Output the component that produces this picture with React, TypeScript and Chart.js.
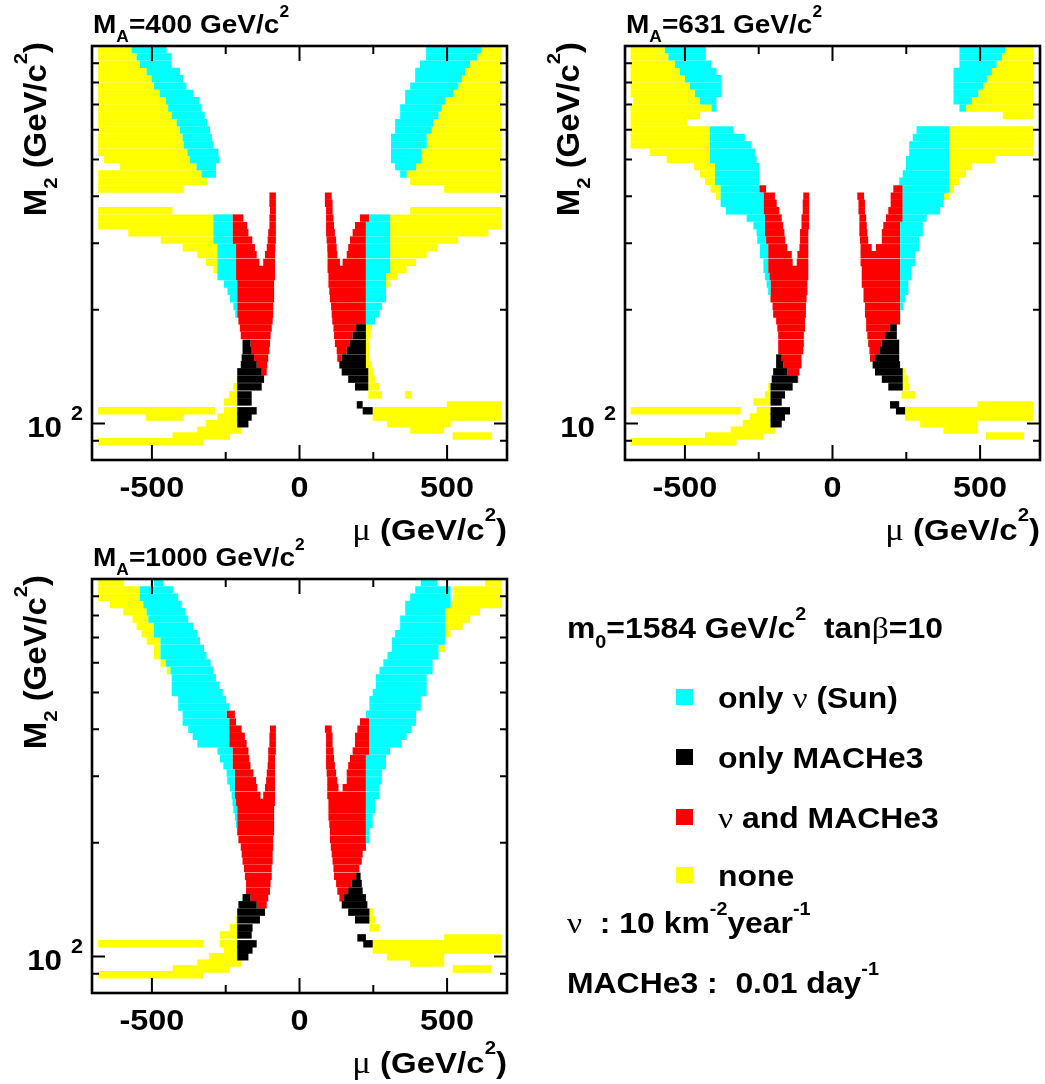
import { useEffect, useRef } from 'react';
import { Chart, registerables } from 'chart.js';

Chart.register(...registerables);

// M2 (GeV/c^2) value of each scan row (index = row number)
const M2_ROWS = [
  979, 936, 895, 856, 819, 783, 749, 716, 685, 655, 626, 599, 572, 547, 523, 500, 479, 458, 438, 418,
  400, 383, 366, 350, 334, 320, 306, 292, 280, 267, 256, 245, 234, 224, 214, 204, 195, 187, 179, 171,
  163, 156, 149, 143, 137, 131, 125, 119, 114, 112, 108, 104, 99.8, 96, 92.6, 89.4,
];

const MU_TICKS_MAJOR = [-500, 0, 500];
const MU_TICKS_MINOR = [-250, 250];
const M2_TICKS_MAJOR = [100];
const M2_TICKS_MINOR = [90, 200, 300, 400, 500, 600, 700, 800, 900];
const MA_VALUES = [400, 631, 1000];
const CATEGORIES = ['only ν (Sun)', 'only MACHe3', 'ν and MACHe3', 'none'];

// rows: [row index, mu low, mu high]
const p400Yellow = [
  [0,-682,-569],[1,-682,-552],[2,-682,-541],[3,-682,-518],[4,-682,-501],[5,-682,-493],[6,-682,-473],[7,-682,-453],[8,-682,-445],[9,-682,-433],[10,-682,-416],[11,-682,-405],[12,-682,-396],[13,-682,-392],[14,-682,-380],[15,-662,-371],[16,-608,-349],[17,-682,-332],[18,-682,-313],[19,-682,-392],
  [22,-682,-430],[23,-682,-292],[24,-682,-292],[25,-580,-292],[26,-470,-292],[27,-396,-278],[28,-346,-278],[29,-317,-278],[30,-292,-278],
  [46,-224,-211],[47,-238,-211],[48,-256,-211],
  [50,-682,-286],[50,-256,-211],[51,-521,-392],[51,-278,-211],[52,-317,-211],[53,-346,-196],[54,-430,-236],[55,-682,-326],
  [0,617,685],[1,601,685],[2,578,685],[3,561,685],[4,550,685],[5,538,685],[6,521,685],[7,493,685],[8,482,685],[9,471,685],[10,454,685],[11,448,685],[12,431,685],[13,431,685],[14,414,685],[15,414,685],[16,395,685],[17,363,685],[18,375,685],[19,490,685],
  [22,375,685],[23,307,685],[24,307,685],[25,307,640],[26,307,538],[27,307,467],[28,307,431],[29,307,395],[30,307,363],[31,293,332],[32,293,307],
  [38,225,245],[39,225,241],[40,225,237],[41,225,237],[42,225,237],[43,225,245],[44,233,250],[45,233,256],[46,233,271],[47,233,279],[47,358,380],
  [49,499,685],[50,248,685],[51,248,685],[52,296,512],[53,375,490],[54,519,651],
];
const p400Cyan = [
  [0,-569,-450],[1,-552,-433],[2,-541,-433],[3,-518,-405],[4,-501,-394],[5,-493,-383],[6,-473,-360],[7,-453,-340],[8,-445,-332],[9,-433,-321],[10,-416,-313],[11,-405,-303],[12,-396,-297],[13,-392,-292],[14,-380,-275],[15,-371,-271],[16,-349,-283],[17,-332,-283],
  [23,-292,-227],[24,-292,-227],[25,-292,-227],[26,-292,-227],[27,-278,-215],[28,-278,-215],[29,-278,-215],[30,-278,-215],[31,-278,-215],[32,-256,-211],[33,-244,-211],[34,-236,-211],[35,-224,-211],[36,-218,-211],
  [0,429,617],[1,429,601],[2,408,578],[3,392,561],[4,392,550],[5,375,538],[6,358,521],[7,358,493],[8,341,482],[9,341,471],[10,324,454],[11,324,448],[12,310,431],[13,310,431],[14,310,414],[15,310,414],[16,324,395],[17,341,363],
  [23,237,307],[24,225,307],[25,225,307],[26,225,307],[27,225,307],[28,225,307],[29,225,307],[30,225,307],[31,225,293],[32,225,293],[33,225,293],[34,225,293],[35,225,279],[36,225,271],[37,225,256],
];
const p400Red = [
  [23,-227,-190],[24,-227,-177],[25,-227,-173],[26,-227,-160],[27,-215,-151],[28,-215,-145],[29,-215,-136],[30,-215,-83],[31,-215,-83],[32,-211,-86],[33,-211,-86],[34,-211,-86],[35,-211,-89],[36,-211,-89],[37,-207,-91],[38,-202,-94],[39,-199,-98],[40,-166,-100],[41,-162,-102],[42,-154,-106],[43,-145,-109],[44,-128,-111],
  [20,-102,-80],[21,-102,-80],[22,-100,-80],[23,-102,-80],[24,-102,-80],[25,-106,-80],[26,-108,-80],[27,-111,-82],[28,-117,-83],[29,-123,-83],
  [20,86,109],[21,86,112],[22,90,112],[23,90,115],[24,90,117],[25,90,120],[26,92,124],[27,94,126],[28,95,128],[29,95,137],
  [23,205,237],[24,188,225],[25,180,225],[26,171,225],[27,165,225],[28,160,225],[29,146,225],[30,95,225],[31,98,225],[32,98,225],[33,101,225],[34,103,225],[35,107,225],[36,109,225],[37,111,225],[38,115,192],[39,117,180],[40,120,171],[41,126,160],[42,128,143],
];
const p400Black = [
  [40,-193,-166],[41,-193,-162],[42,-196,-154],[43,-199,-145],[44,-211,-128],[45,-211,-120],[46,-211,-128],[47,-211,-162],[48,-211,-162],[50,-211,-145],[51,-211,-162],[52,-211,-173],
  [38,192,225],[39,180,225],[40,171,225],[41,160,225],[42,143,225],[43,135,225],[44,143,233],[45,165,233],[46,188,233],[49,194,214],[50,214,248],
];

const p631Yellow = [
  [0,-684,-568],[1,-684,-556],[2,-684,-534],[3,-684,-517],[4,-684,-500],[5,-684,-483],[6,-684,-466],[7,-675,-449],[8,-684,-410],[9,-684,-449],[10,-684,-492],
  [11,-684,-415],[12,-684,-415],[13,-684,-415],[14,-619,-415],[15,-562,-415],[16,-469,-398],[17,-449,-398],[18,-432,-398],[19,-413,-379],[20,-395,-379],
  [46,-218,-210],[47,-229,-210],[48,-268,-210],
  [50,-684,-311],[50,-257,-210],[51,-280,-210],[52,-304,-210],[53,-345,-195],[54,-432,-234],[55,-684,-325],
  [0,585,681],[1,574,681],[2,556,681],[3,540,681],[4,523,681],[5,511,681],[6,494,681],[7,472,681],[8,452,681],[9,577,681],
  [11,396,681],[12,396,681],[13,396,681],[14,396,681],[15,396,551],[16,396,472],[17,396,452],[18,396,430],[19,396,412],[20,378,396],
  [44,238,246],[45,238,257],[46,238,260],[47,234,280],
  [49,491,681],[50,246,681],[51,246,681],[52,297,491],[53,376,491],[54,520,649],
];
const p631Cyan = [
  [0,-568,-429],[1,-556,-429],[2,-534,-410],[3,-517,-393],[4,-500,-376],[5,-483,-376],[6,-466,-376],[7,-449,-393],[8,-410,-393],
  [11,-415,-336],[12,-415,-297],[13,-415,-274],[14,-415,-263],[15,-415,-257],[16,-398,-248],[17,-398,-248],[18,-398,-248],[19,-379,-248],[20,-379,-234],[21,-379,-234],[22,-361,-234],[23,-291,-229],[24,-268,-229],[25,-257,-229],[26,-255,-225],[27,-246,-218],[28,-246,-218],[29,-234,-218],[30,-234,-218],[31,-229,-214],[32,-223,-210],[33,-218,-210],
  [0,430,585],[1,430,574],[2,430,556],[3,410,540],[4,410,523],[5,410,511],[6,410,494],[7,410,472],[8,430,452],
  [11,285,396],[12,272,396],[13,260,396],[14,260,396],[15,249,396],[16,249,396],[17,238,396],[18,226,396],[19,238,396],[20,238,378],[21,238,376],[22,238,364],[23,238,319],[24,229,306],[25,229,306],[26,229,294],[27,229,294],[28,229,280],[29,229,280],[30,229,268],[31,229,268],[32,229,257],[33,229,257],[34,229,246],[35,229,240],
];
const p631Red = [
  [19,-248,-225],[20,-234,-195],[21,-234,-189],[22,-234,-180],[23,-229,-172],[24,-229,-167],[25,-229,-163],[26,-225,-160],[27,-218,-153],[28,-218,-138],[29,-218,-135],[30,-218,-82],[31,-214,-82],[32,-210,-85],[33,-210,-85],[34,-210,-88],[35,-203,-90],[36,-201,-90],[37,-191,-93],[38,-187,-93],[39,-184,-97],[40,-184,-97],[41,-184,-99],[42,-172,-105],[43,-167,-105],[44,-153,-112],[45,-121,-116],
  [20,-99,-79],[21,-101,-79],[22,-101,-79],[23,-105,-79],[24,-105,-79],[25,-110,-82],[26,-110,-82],[27,-112,-82],[28,-119,-82],[29,-121,-82],
  [20,84,107],[21,88,110],[22,88,110],[23,91,114],[24,91,116],[25,91,118],[26,93,121],[27,95,133],
  [19,206,238],[20,197,238],[21,197,238],[22,189,238],[23,181,238],[24,172,229],[25,167,229],[26,167,229],[27,147,229],[28,95,229],[29,95,229],[30,99,229],[31,99,229],[32,99,229],[33,105,229],[34,105,229],[35,110,229],[36,110,229],[37,114,229],[38,114,195],[39,118,178],[40,121,167],[41,125,159],[42,127,144],
];
const p631Black = [
  [42,-191,-172],[43,-191,-167],[44,-201,-153],[45,-206,-119],[46,-210,-135],[47,-210,-161],[48,-210,-172],[50,-210,-144],[51,-210,-161],[52,-210,-172],
  [38,195,218],[39,178,218],[40,167,226],[41,159,226],[42,144,226],[43,136,229],[44,144,238],[45,167,238],[46,189,238],[49,195,226],[50,215,246],
];

const p1000Yellow = [
  [0,-682,-595],[1,-682,-541],[2,-682,-541],[3,-642,-529],[4,-597,-518],[5,-566,-512],[6,-552,-493],[7,-535,-493],[8,-518,-471],[9,-493,-471],[10,-493,-471],[11,-471,-453],[12,-450,-437],
  [46,-215,-211],[47,-236,-211],[48,-270,-211],
  [50,-682,-326],[50,-270,-211],[51,-256,-211],[52,-306,-211],[53,-346,-196],[54,-430,-236],[55,-682,-326],
  [0,629,685],[1,521,685],[2,521,685],[3,512,685],[4,493,612],[5,493,578],[6,493,553],[7,493,512],[9,471,493],
  [45,237,250],[46,237,256],[47,237,271],
  [49,490,685],[50,248,685],[51,248,685],[52,296,490],[53,375,490],[54,519,651],
];
const p1000Cyan = [
  [0,-493,-461],[1,-541,-428],[2,-541,-411],[3,-529,-399],[4,-518,-388],[5,-512,-377],[6,-493,-360],[7,-493,-346],[8,-471,-337],[9,-471,-324],[10,-471,-315],[11,-453,-301],[12,-437,-292],[13,-433,-283],[14,-433,-271],[15,-433,-260],[16,-411,-249],[17,-411,-238],[18,-396,-247],[19,-396,-238],[20,-377,-238],[21,-362,-238],[22,-346,-238],[23,-278,-227],[24,-270,-227],[25,-258,-227],[26,-247,-219],[27,-245,-219],[28,-236,-219],[29,-230,-219],[30,-227,-215],[31,-224,-211],[32,-219,-211],[33,-215,-211],
  [0,411,467],[1,392,512],[2,375,512],[3,358,512],[4,358,493],[5,341,493],[6,341,493],[7,324,493],[8,313,493],[9,313,471],[10,298,471],[11,284,451],[12,271,451],[13,259,431],[14,259,431],[15,248,431],[16,237,411],[17,237,411],[18,225,395],[19,237,395],[20,237,380],[21,237,363],[22,237,346],[23,237,307],[24,225,293],[25,225,293],[26,225,279],[27,225,279],[28,225,271],[29,225,271],[30,225,256],[31,225,256],[32,225,248],[33,225,248],[34,225,237],[35,225,237],
];
const p1000Red = [
  [18,-247,-219],[19,-238,-215],[20,-238,-196],[21,-238,-185],[22,-238,-179],[23,-227,-173],[24,-227,-170],[25,-227,-166],[26,-219,-156],[27,-219,-147],[28,-219,-143],[29,-219,-132],[30,-215,-83],[31,-211,-86],[32,-211,-86],[33,-211,-86],[34,-211,-86],[35,-207,-89],[36,-199,-89],[37,-196,-91],[38,-193,-91],[39,-188,-94],[40,-185,-94],[41,-181,-98],[42,-181,-100],[43,-166,-106],[44,-145,-111],
  [20,-100,-80],[21,-102,-80],[22,-102,-80],[23,-106,-80],[24,-106,-83],[25,-108,-83],[26,-111,-83],[27,-113,-83],[28,-117,-83],[29,-123,-83],
  [20,86,109],[21,90,112],[22,90,112],[23,90,115],[24,90,117],[25,90,120],[26,92,124],[27,94,128],[28,94,132],
  [19,205,237],[20,196,237],[21,188,237],[22,188,237],[23,180,237],[24,171,225],[25,165,225],[26,160,225],[27,160,225],[28,146,225],[29,94,225],[30,98,225],[31,98,225],[32,98,225],[33,101,225],[34,103,225],[35,103,225],[36,106,225],[37,109,214],[38,112,211],[39,115,203],[40,117,192],[41,124,177],[42,128,165],[43,135,151],
];
const p1000Black = [
  [43,-193,-166],[44,-207,-145],[45,-211,-117],[46,-211,-134],[47,-211,-159],[48,-211,-162],[50,-211,-145],[51,-211,-159],[52,-211,-173],
  [40,192,207],[41,177,211],[42,165,214],[43,151,225],[44,143,230],[45,165,237],[46,188,237],[49,196,225],[50,216,248],
];

const COLORS = { cyan: '#00ffff', black: '#000000', red: '#ff0000', yellow: '#ffff00' };

type Run = { t: string; k?: 'sub' | 'sup'; g?: boolean };

function drawRich(ctx: CanvasRenderingContext2D, runs: Run[], x: number, y: number, size: number, align: 'left' | 'right' | 'center', sx = 1.1) {
  const fontFor = (r: Run) => {
    const s = r.k ? size * 0.62 : size;
    return r.g ? `${s * 1.05}px "Liberation Serif"` : `bold ${s}px "Liberation Sans"`;
  };
  let w = 0;
  const widths = runs.map((r) => {
    ctx.font = fontFor(r);
    const m = ctx.measureText(r.t).width;
    w += m;
    return m;
  });
  ctx.save();
  ctx.translate(x, y);
  ctx.scale(sx, 1);
  ctx.textAlign = 'left';
  ctx.textBaseline = 'alphabetic';
  let cx = align === 'left' ? 0 : align === 'right' ? -w : -w / 2;
  runs.forEach((r, i) => {
    ctx.font = fontFor(r);
    const dy = r.k === 'sub' ? size * 0.35 : r.k === 'sup' ? -size * 0.62 : 0;
    ctx.fillText(r.t, cx, dy);
    cx += widths[i];
  });
  ctx.restore();
}

type PanelCfg = {
  ma: number;
  yellow: number[][];
  cyan: number[][];
  red: number[][];
  black: number[][];
  box: { left: number; top: number; right: number; bottom: number };
  legend: boolean;
};

const PANELS: PanelCfg[] = [
  { ma: MA_VALUES[0], yellow: p400Yellow, cyan: p400Cyan, red: p400Red, black: p400Black, box: { left: 92, top: 46, right: 507, bottom: 460 }, legend: false },
  { ma: MA_VALUES[1], yellow: p631Yellow, cyan: p631Cyan, red: p631Red, black: p631Black, box: { left: 625, top: 46, right: 1040, bottom: 460 }, legend: false },
  { ma: MA_VALUES[2], yellow: p1000Yellow, cyan: p1000Cyan, red: p1000Red, black: p1000Black, box: { left: 92, top: 579, right: 507, bottom: 993 }, legend: true },
];

const W = 1045;
const H = 1084;

function makePlugin(cfg: PanelCfg) {
  return {
    id: 'decor' + cfg.ma,
    afterDraw(chart: any) {
      const ctx: CanvasRenderingContext2D = chart.ctx;
      const ca = chart.chartArea;
      const xs = chart.scales.x;
      const ys = chart.scales.y;
      ctx.save();
      ctx.strokeStyle = '#000';
      ctx.fillStyle = '#000';
      ctx.lineWidth = 2;
      ctx.beginPath();
      const xTick = (v: number, len: number) => {
        const p = xs.getPixelForValue(v);
        ctx.moveTo(p, ca.bottom); ctx.lineTo(p, ca.bottom - len);
        ctx.moveTo(p, ca.top); ctx.lineTo(p, ca.top + len);
      };
      const yTick = (v: number, len: number) => {
        const p = ys.getPixelForValue(v);
        ctx.moveTo(ca.left, p); ctx.lineTo(ca.left + len, p);
        ctx.moveTo(ca.right, p); ctx.lineTo(ca.right - len, p);
      };
      MU_TICKS_MAJOR.forEach((v) => xTick(v, 15));
      MU_TICKS_MINOR.forEach((v) => xTick(v, 8));
      M2_TICKS_MAJOR.forEach((v) => yTick(v, 13));
      M2_TICKS_MINOR.forEach((v) => yTick(v, 7));
      ctx.stroke();
      ctx.lineWidth = 2.6;
      ctx.strokeRect(ca.left, ca.top, ca.right - ca.left, ca.bottom - ca.top);

      // tick labels
      MU_TICKS_MAJOR.forEach((v) => {
        drawRich(ctx, [{ t: String(v) }], xs.getPixelForValue(v), ca.bottom + 37, 30, 'center', 1.08);
      });
      M2_TICKS_MAJOR.forEach((v) => {
        const p = ys.getPixelForValue(v);
        drawRich(ctx, [{ t: '10' }], ca.left - 30, p + 14, 29, 'right', 1.08);
        drawRich(ctx, [{ t: String(Math.round(Math.log10(v))) }], ca.left - 21, p - 3, 20, 'left', 1.08);
      });

      // titles
      drawRich(ctx, [{ t: 'M' }, { t: 'A', k: 'sub' }, { t: `=${cfg.ma} GeV/c` }, { t: '2', k: 'sup' }], ca.left + 1, ca.top - 13, 25.5, 'left', 1.1);
      drawRich(ctx, [{ t: 'μ', g: true }, { t: ' (GeV/c' }, { t: '2', k: 'sup' }, { t: ')' }], ca.right, ca.bottom + 80, 30, 'right', 1.1);
      ctx.save();
      ctx.translate(ca.left - 46, ca.top - 4);
      ctx.rotate(-Math.PI / 2);
      drawRich(ctx, [{ t: 'M' }, { t: '2', k: 'sub' }, { t: ' (GeV/c' }, { t: '2', k: 'sup' }, { t: ')' }], 0, 0, 31, 'right', 1.06);
      ctx.restore();

      if (cfg.legend) {
        const ds = chart.data.datasets;
        drawRich(ctx, [{ t: 'm' }, { t: '0', k: 'sub' }, { t: '=1584 GeV/c' }, { t: '2', k: 'sup' }, { t: '  tan' }, { t: 'β', g: true }, { t: '=10' }], 567, 638, 29, 'left', 1.1);
        const entries: { label: Run[]; color: string; base: number }[] = [
          { label: [{ t: 'only ' }, { t: 'ν', g: true }, { t: ' (Sun)' }], color: ds[0].backgroundColor, base: 708 },
          { label: [{ t: CATEGORIES[1] }], color: ds[1].backgroundColor, base: 768 },
          { label: [{ t: 'ν', g: true }, { t: ' and MACHe3' }], color: ds[2].backgroundColor, base: 828 },
          { label: [{ t: CATEGORIES[3] }], color: ds[3].backgroundColor, base: 886 },
        ];
        entries.forEach((e) => {
          ctx.fillStyle = e.color;
          ctx.fillRect(676, e.base - 19, 17, 16);
          ctx.fillStyle = '#000';
          drawRich(ctx, e.label, 718, e.base, 29, 'left', 1.1);
        });
        drawRich(ctx, [{ t: 'ν', g: true }, { t: '  : 10 km' }, { t: '-2', k: 'sup' }, { t: 'year' }, { t: '-1', k: 'sup' }], 567, 933, 29, 'left', 1.1);
        drawRich(ctx, [{ t: 'MACHe3 :  0.01 day' }, { t: '-1', k: 'sup' }], 567, 993, 29, 'left', 1.1);
      }
      ctx.restore();
    },
  };
}

function toBars(rows: number[][]) {
  return rows.map(([r, a, b]) => ({ x: [a, b], y: M2_ROWS[r] }));
}

function Panel({ cfg }: { cfg: PanelCfg }) {
  const ref = useRef<HTMLCanvasElement>(null);
  useEffect(() => {
    const common = { borderWidth: 0, barThickness: 7.4, grouped: false, inflateAmount: 0 };
    const chart = new Chart(ref.current as HTMLCanvasElement, {
      type: 'bar',
      data: {
        datasets: [
          { label: CATEGORIES[0], data: toBars(cfg.cyan), backgroundColor: COLORS.cyan, ...common },
          { label: CATEGORIES[1], data: toBars(cfg.black), backgroundColor: COLORS.black, ...common },
          { label: CATEGORIES[2], data: toBars(cfg.red), backgroundColor: COLORS.red, ...common },
          { label: CATEGORIES[3], data: toBars(cfg.yellow), backgroundColor: COLORS.yellow, ...common },
        ] as any,
      },
      options: {
        indexAxis: 'y',
        animation: false,
        responsive: false,
        devicePixelRatio: 1,
        events: [],
        layout: {
          padding: { left: cfg.box.left, top: cfg.box.top, right: W - cfg.box.right, bottom: H - cfg.box.bottom },
        },
        plugins: { legend: { display: false }, tooltip: { enabled: false } },
        scales: {
          x: { type: 'linear', min: -703, max: 703, display: false, offset: false },
          y: { type: 'logarithmic', min: 80, max: 1000, display: false, offset: false },
        },
      } as any,
      plugins: [makePlugin(cfg)],
    });
    return () => chart.destroy();
  }, [cfg]);
  return <canvas ref={ref} width={W} height={H} style={{ position: 'absolute', left: 0, top: 0, width: W, height: H }} />;
}

export default function App() {
  return (
    <div style={{ position: 'absolute', left: 0, top: 0, width: W, height: H, background: '#fff', overflow: 'hidden' }}>
      {PANELS.map((p) => (
        <Panel key={p.ma} cfg={p} />
      ))}
    </div>
  );
}
